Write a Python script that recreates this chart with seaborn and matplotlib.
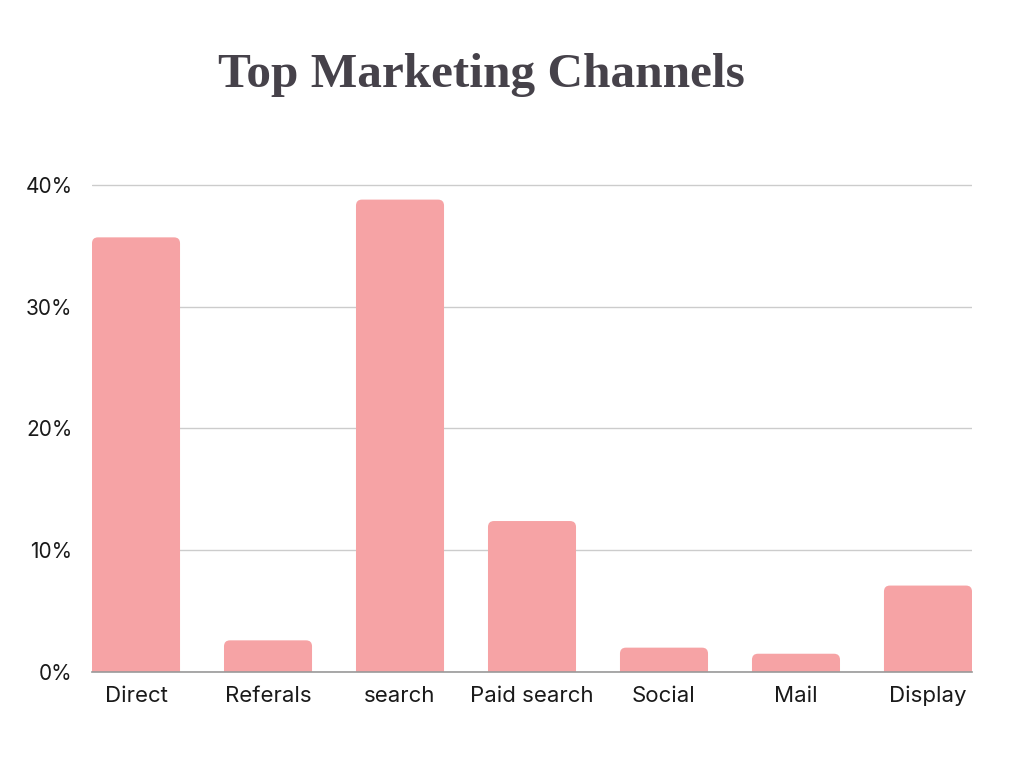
import matplotlib
matplotlib.use("Agg")
import matplotlib.pyplot as plt
import seaborn as sns
import pandas as pd
from matplotlib.patches import FancyBboxPatch

categories = ["Direct", "Referals", "search", "Paid search", "Social", "Mail", "Display"]
values = [35.7, 2.6, 38.8, 12.4, 2.0, 1.5, 7.1]
yticks = [0, 10, 20, 30, 40]
ytick_labels = ["0%", "10%", "20%", "30%", "40%"]

df = pd.DataFrame({"channel": categories, "share": values})

sns.set_theme(style="white")
plt.rcParams['font.family'] = ['Inter', 'DejaVu Sans']

fig = plt.figure(figsize=(10.24, 7.68), dpi=100)
ax = fig.add_axes([92/1024, 96/768, 880/1024, 41*12.175/768])

bar_color = "#f6a3a5"
sns.barplot(data=df, x="channel", y="share", color=bar_color, width=0.667,
            saturation=1, ax=ax, zorder=3)

# replace bars with rounded-top versions
px_x = 132.0
px_y = 12.175
r = 6.0
for p in list(ax.patches):
    x0, w, h = p.get_x(), p.get_width(), p.get_height()
    p.set_visible(False)
    fb = FancyBboxPatch((x0, -2), w, h + 2,
                        boxstyle=f"round,pad=0,rounding_size={r/px_x}",
                        mutation_aspect=(r/px_y)/(r/px_x),
                        fc=bar_color, ec="none", zorder=3, clip_on=True)
    ax.add_patch(fb)

ax.set_xlim(-0.3335, 6.3335)
ax.set_ylim(0, 41)
ax.set_yticks(yticks)
ax.set_yticklabels(ytick_labels)
ax.yaxis.grid(True, color="#cccccc", linewidth=1.0, zorder=0)
ax.set_axisbelow(True)
for s in ["top", "right", "left"]:
    ax.spines[s].set_visible(False)
ax.spines["bottom"].set_color("#999999")
ax.spines["bottom"].set_linewidth(1.2)
ax.spines["bottom"].set_zorder(4)
ax.tick_params(axis="y", length=0, pad=14, labelsize=15, labelcolor="#1a1a1a")
ax.tick_params(axis="x", length=0, pad=10, labelsize=16, labelcolor="#1a1a1a")
ax.set_xlabel("")
ax.set_ylabel("")

fig.text(481/1024, 1 - 75/768, "Top Marketing Channels", ha="center", va="center",
         fontsize=35.5, fontweight="bold", color="#46424a",
         family=["Liberation Serif", "DejaVu Serif"])

fig.savefig("out.png", dpi=100, facecolor="white")
